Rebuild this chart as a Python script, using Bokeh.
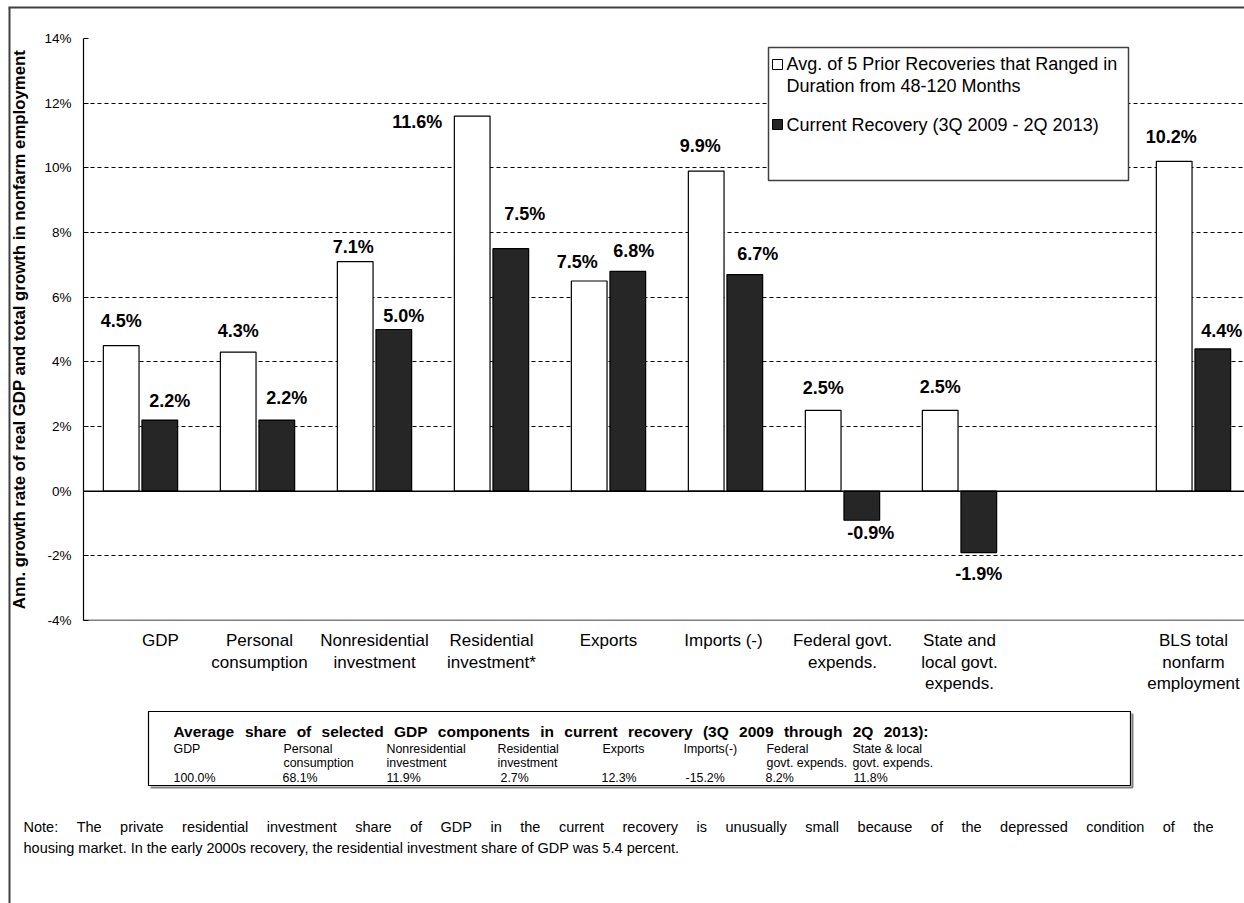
import math
from bokeh.plotting import figure
from bokeh.models import (ColumnDataSource, Range1d, FixedTicker, PrintfTickFormatter,
                          LabelSet, Span)
from bokeh.core.properties import value
from bokeh.embed import file_html
from bokeh.resources import INLINE

# ---------------- data ----------------
categories = ["GDP", "Personal\nconsumption", "Nonresidential\ninvestment",
              "Residential\ninvestment*", "Exports", "Imports (-)",
              "Federal govt.\nexpends.", "State and\nlocal govt.\nexpends.", "",
              "BLS total\nnonfarm\nemployment"]
prior_avg = [4.5, 4.3, 7.1, 11.6, 6.5, 9.9, 2.5, 2.5, float("nan"), 10.2]
current_recovery = [2.2, 2.2, 5.0, 7.5, 6.8, 6.7, -0.9, -1.9, float("nan"), 4.4]
prior_labels = ["4.5%", "4.3%", "7.1%", "11.6%", "7.5%", "9.9%", "2.5%", "2.5%", "", "10.2%"]
current_labels = ["2.2%", "2.2%", "5.0%", "7.5%", "6.8%", "6.7%", "-0.9%", "-1.9%", "", "4.4%"]
y_ticks = [-4, -2, 0, 2, 4, 6, 8, 10, 12, 14]
y_title = "Ann. growth rate of real GDP and total growth in nonfarm employment"
legend_labels = ["Avg. of 5 Prior Recoveries that Ranged in\nDuration from 48-120  Months",
                 "Current Recovery (3Q 2009 - 2Q 2013)"]
share_title = "Average share of selected GDP components in current recovery (3Q 2009 through 2Q 2013):"
share_components = ["GDP", "Personal\nconsumption", "Nonresidential\ninvestment",
                    "Residential\ninvestment", "Exports", "Imports(-)",
                    "Federal\ngovt. expends.", "State & local\ngovt. expends."]
share_values = ["100.0%", "68.1%", "11.9%", "2.7%", "12.3%", "-15.2%", "8.2%", "11.8%"]
note_lines = ["Note: The private residential investment share of GDP in the current recovery is unusually small because of the depressed condition of the",
              "housing market. In the early 2000s recovery, the residential investment share of GDP was 5.4 percent."]

# ---------------- layout / style ----------------
FONT = "Liberation Sans"
W, H = 1244, 903
FL, FT, FB = 83, 38, 620
SLOT = 117.0
X0 = 140.0
x_start = -(X0 - FL) / SLOT
x_end = x_start + (W - FL) / SLOT
Y_MIN, Y_MAX = -4, 14
PPU = (FB - FT) / (Y_MAX - Y_MIN)


def px2x(px):
    return x_start + (px - FL) / SLOT


def px2y(py):
    return Y_MAX - (py - FT) / PPU


# Arial / Liberation Sans advance widths (1/1000 em) used to justify text lines
_REG = dict(zip("abcdefghijklmnopqrstuvwxyz",
                [556, 556, 500, 556, 556, 278, 556, 556, 222, 222, 500, 222, 833, 556, 556,
                 556, 556, 333, 500, 278, 556, 500, 722, 500, 500, 500]))
_REG.update(zip("ABCDEFGHIJKLMNOPQRSTUVWXYZ",
                [667, 667, 722, 722, 667, 611, 778, 722, 278, 500, 667, 556, 833, 722, 778,
                 667, 778, 722, 667, 611, 722, 667, 944, 667, 667, 611]))
_BOLD = dict(zip("abcdefghijklmnopqrstuvwxyz",
                 [556, 611, 556, 611, 556, 333, 611, 611, 278, 278, 556, 278, 889, 611, 611,
                  611, 611, 389, 556, 333, 611, 556, 778, 556, 556, 500]))
_BOLD.update(zip("ABCDEFGHIJKLMNOPQRSTUVWXYZ",
                 [722, 722, 722, 722, 667, 611, 778, 722, 278, 556, 722, 611, 833, 722, 778,
                  667, 778, 722, 667, 611, 722, 667, 944, 667, 667, 611]))
for _d, _colon in ((_REG, 278), (_BOLD, 333)):
    _d.update({c: 556 for c in "0123456789"})
    _d.update({" ": 278, ".": 278, ",": 278, ":": _colon, "(": 333, ")": 333, "-": 333,
               "%": 889, "&": 722 if _d is _BOLD else 667, "*": 389})


def text_w(s, size, bold=False):
    tab = _BOLD if bold else _REG
    return sum(tab.get(c, 556) for c in s) * size / 1000.0


def justify(line, x0, x1, size, bold=False):
    words = line.split(" ")
    ww = [text_w(w, size, bold) for w in words]
    gap = (x1 - x0 - sum(ww)) / max(len(words) - 1, 1)
    xs, x = [], x0
    for w in ww:
        xs.append(x)
        x += w + gap
    return xs, words


BAR_W = 0.305
DODGE = 0.165
DARK = "#262626"
# label offsets in px (dx right, dy up from bar end)
prior_dx = [0, 0, -2, -55, -12, -6, 0, 0, 0, -3]
prior_dy = [25, 21, 15, -6, 19, 25, 22, 23, 0, 24]
cur_dx = [10, 10, 10, 14, 6, 13, 9, 0, 0, 9]
cur_dy = [19, 22, 14, 35, 20, 21, -13, -21, 0, 18]
cat_dx = [20, 2, 0, 0, 0, -2, 0, 0, 0, 0]
share_col_px = [173, 283, 386, 497, 602, 683, 766, 852]
share_val_px = [173, 282, 386, 500, 601, 685, 765, 853]

p = figure(width=W, height=H, x_range=Range1d(x_start, x_end), y_range=Range1d(Y_MIN, Y_MAX),
           output_backend="svg", toolbar_location=None,
           min_border_left=FL, min_border_right=0, min_border_top=FT, min_border_bottom=H - FB)
p.outline_line_color = None
p.background_fill_color = "white"
p.border_fill_color = "white"
p.xaxis.visible = False
p.xgrid.visible = False

p.ygrid.ticker = FixedTicker(ticks=y_ticks)
p.ygrid.grid_line_color = "black"
p.ygrid.grid_line_dash = "4 3"
p.ygrid.grid_line_width = 1

ax = p.yaxis[0]
ax.ticker = FixedTicker(ticks=y_ticks)
ax.formatter = PrintfTickFormatter(format="%d%%")
ax.major_label_text_font = FONT
ax.major_label_text_font_size = "13.5px"
ax.major_label_text_color = "black"
ax.major_label_standoff = 12
ax.major_tick_in = 5
ax.major_tick_out = 0
ax.major_tick_line_color = "black"
ax.minor_tick_line_color = None
ax.axis_line_color = "black"
ax.axis_line_width = 1.2
ax.axis_label = y_title
ax.axis_label_text_font = FONT
ax.axis_label_text_font_style = "bold"
ax.axis_label_text_font_size = "16.8px"
ax.axis_label_text_color = "black"
ax.axis_label_standoff = 12

idx = list(range(len(categories)))
src = ColumnDataSource(dict(
    x_prior=[i - DODGE for i in idx], x_cur=[i + DODGE for i in idx],
    prior=prior_avg, cur=current_recovery,
    prior_label=prior_labels, cur_label=current_labels,
    p_dx=prior_dx, p_dy=prior_dy, c_dx=cur_dx, c_dy=cur_dy,
))

p.vbar(x="x_prior", top="prior", bottom=0, width=BAR_W, fill_color="white",
       line_color="black", line_width=1.2, source=src)
p.vbar(x="x_cur", top="cur", bottom=0, width=BAR_W, fill_color=DARK,
       line_color="black", line_width=1.2, source=src)

p.add_layout(Span(location=0, dimension="width", line_color="black", line_width=1.5))
p.add_layout(Span(location=Y_MIN, dimension="width", line_color="black", line_width=1.5))

lab_kw = dict(text_align="center", text_baseline="middle", text_font=value(FONT),
              text_font_style="bold", text_font_size="18px", text_color="black")
p.add_layout(LabelSet(x="x_prior", y="prior", text="prior_label", x_offset="p_dx",
                      y_offset="p_dy", source=src, **lab_kw))
p.add_layout(LabelSet(x="x_cur", y="cur", text="cur_label", x_offset="c_dx",
                      y_offset="c_dy", source=src, **lab_kw))


def overlay_text(xs, ys, ts, align="left", size="14px", style="normal"):
    p.text(x=xs, y=ys, text=ts, text_align=align, text_baseline="middle",
           text_font=value(FONT), text_font_size=size, text_font_style=style,
           text_color="black", level="overlay")


# category labels below plot
cx, cy, ct = [], [], []
for i, cat in enumerate(categories):
    for j, line in enumerate(cat.split("\n")):
        if not line:
            continue
        cx.append(i + cat_dx[i] / SLOT)
        cy.append(px2y(640 + 21.5 * j))
        ct.append(line)
overlay_text(cx, cy, ct, align="center", size="17px")

# legend (manual)
p.quad(left=[px2x(768)], right=[px2x(1128)], top=[px2y(47)], bottom=[px2y(180)],
       fill_color="white", line_color="#404040", line_width=1.5)
p.scatter(x=[px2x(777), px2x(777)], y=[px2y(64), px2y(124)], marker="square", size=10,
          fill_color=["white", DARK], line_color="black", line_width=1)
lx, ly, lt = [], [], []
for k, (lab, ypx) in enumerate(zip(legend_labels, [63, 124])):
    for j, line in enumerate(lab.split("\n")):
        lx.append(px2x(786))
        ly.append(px2y(ypx + 22 * j))
        lt.append(line)
overlay_text(lx, ly, lt, size="18px")

# outer chart border (top and left)
p.line(x=[px2x(8), px2x(1250)], y=[px2y(7), px2y(7)], line_color="#404040",
       line_width=2, level="overlay")
p.line(x=[px2x(9), px2x(9)], y=[px2y(7), px2y(910)], line_color="#404040",
       line_width=2, level="overlay")

# share table box with shadow
p.line(x=[px2x(150), px2x(1132), px2x(1132)], y=[px2y(787), px2y(787), px2y(713)],
       line_color="#808080", line_width=2, level="overlay")
p.quad(left=[px2x(148)], right=[px2x(1130)], top=[px2y(711)], bottom=[px2y(785)],
       fill_color="white", line_color="black", line_width=1.2, level="overlay")
hx, hw = justify(share_title, 173, 928, 15.5, bold=True)
overlay_text([px2x(v) for v in hx], [px2y(731)] * len(hw), hw, size="15.5px", style="bold")
sx, sy, st = [], [], []
for k, comp in enumerate(share_components):
    for j, line in enumerate(comp.split("\n")):
        sx.append(px2x(share_col_px[k]))
        sy.append(px2y(748 + 14 * j))
        st.append(line)
    sx.append(px2x(share_val_px[k]))
    sy.append(px2y(777))
    st.append(share_values[k])
overlay_text(sx, sy, st, size="12.4px")

# note (first line justified, last line natural)
NOTE_SIZE = 14.5
n1x, n1w = justify(note_lines[0], 23, 1213, NOTE_SIZE)
overlay_text([px2x(v) for v in n1x], [px2y(826)] * len(n1w), n1w, size="14.5px")
overlay_text([px2x(23)], [px2y(847)], [note_lines[1]], size="14.5px")

open("out.html", "w").write(file_html(p, INLINE))
